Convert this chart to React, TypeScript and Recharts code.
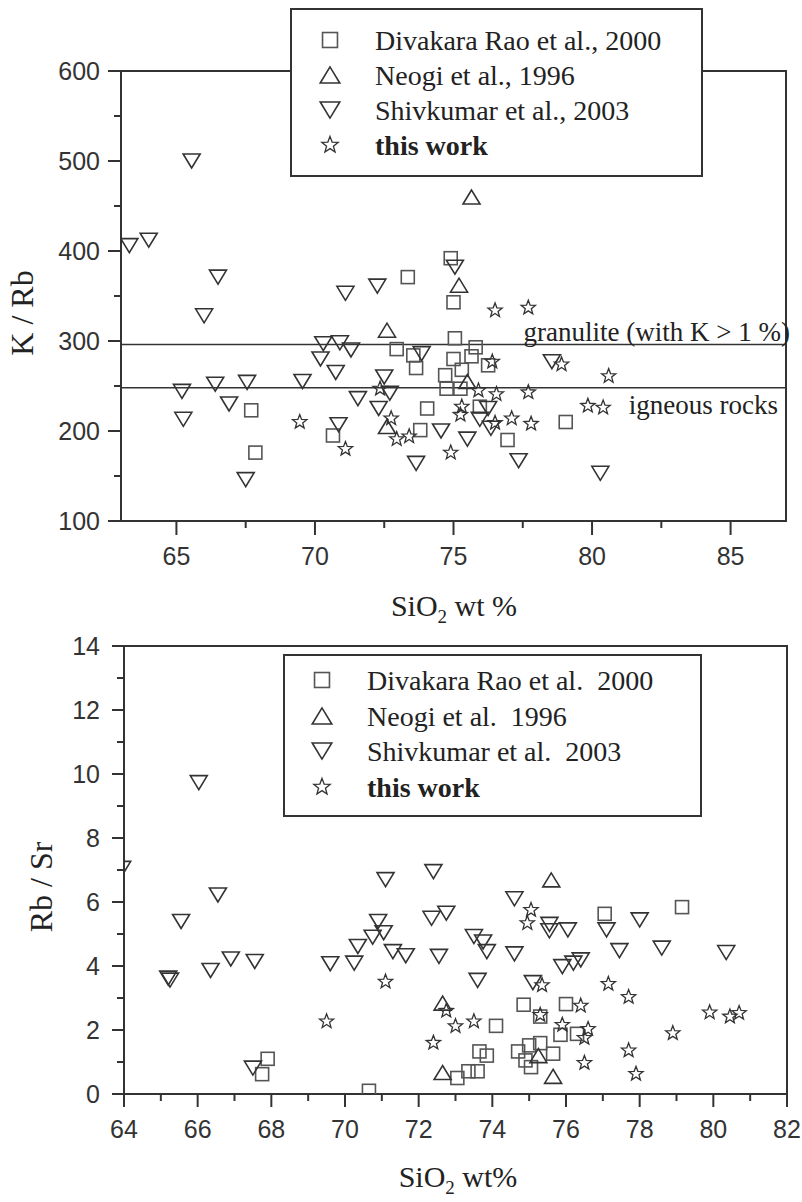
import React from "react";
import {
  ScatterChart,
  Scatter,
  XAxis,
  YAxis,
  ReferenceArea,
  ReferenceLine,
  Legend,
} from "recharts";

type Pt = [number, number];
type Kind = "square" | "up" | "down" | "star";

// upper panel: K/Rb vs SiO2
const krbDivakara: Pt[] = [
  [67.7, 223], [67.85, 176], [70.65, 195], [72.95, 291], [73.35, 371], [73.55, 284],
  [73.65, 270], [73.8, 201], [74.05, 225], [74.7, 262], [74.75, 247], [74.9, 392],
  [75.0, 343], [75.0, 280], [75.05, 303], [75.25, 247], [75.3, 268], [75.65, 283],
  [75.8, 293], [75.95, 227], [76.25, 273], [76.95, 190], [79.05, 210],
];
const krbNeogi: Pt[] = [[72.6, 312], [72.6, 205], [75.2, 362], [75.5, 255], [75.65, 460]];
const krbShivkumar: Pt[] = [
  [63.3, 406], [64.0, 412], [65.55, 500], [66.0, 328], [66.5, 371], [65.2, 244],
  [65.25, 213], [66.4, 252], [66.9, 230], [67.55, 254], [67.5, 146], [69.55, 255],
  [70.3, 297], [70.2, 280], [70.75, 265], [70.9, 298], [71.3, 290], [71.55, 236],
  [70.85, 207], [71.1, 353], [72.25, 361], [72.5, 260], [72.7, 242], [72.3, 225],
  [73.85, 286], [74.55, 200], [75.5, 191], [73.65, 164], [75.95, 213], [76.25, 225],
  [76.35, 203], [77.35, 167], [80.3, 153], [78.55, 277], [75.05, 382],
];
const krbThisWork: Pt[] = [
  [69.45, 210], [71.1, 180], [72.35, 247], [72.75, 214], [72.95, 191], [73.4, 194],
  [74.9, 176], [75.3, 227], [75.25, 218], [75.9, 245], [76.55, 241], [76.4, 277],
  [76.5, 334], [77.7, 337], [77.1, 214], [77.8, 208], [76.5, 209], [77.7, 243],
  [78.9, 274], [79.85, 228], [80.4, 226], [80.6, 261],
];

// lower panel: Rb/Sr vs SiO2
const rbsrDivakara: Pt[] = [
  [67.9, 1.1], [67.75, 0.62], [70.65, 0.1], [77.05, 5.63], [79.15, 5.84], [74.85, 2.79],
  [76.0, 2.81], [74.1, 2.13], [75.3, 2.42], [75.85, 1.85], [76.3, 1.88], [73.65, 1.33],
  [73.85, 1.2], [74.7, 1.33], [75.0, 1.52], [75.3, 1.59], [74.9, 1.05], [75.05, 0.84],
  [75.65, 1.26], [73.05, 0.5], [73.35, 0.71], [73.6, 0.71],
];
const rbsrNeogi: Pt[] = [[72.65, 2.84], [72.65, 0.67], [75.25, 1.2], [75.65, 0.55], [75.6, 6.69]];
const rbsrShivkumar: Pt[] = [
  [63.95, 7.05], [66.03, 9.73], [66.55, 6.22], [65.55, 5.39], [65.2, 3.62], [65.25, 3.56],
  [66.35, 3.86], [66.9, 4.22], [67.55, 4.14], [67.5, 0.81], [69.6, 4.07], [70.25, 4.09],
  [70.35, 4.61], [70.75, 4.9], [70.9, 5.39], [71.05, 5.04], [71.1, 6.7], [71.3, 4.45],
  [71.65, 4.32], [72.35, 5.49], [72.75, 5.65], [72.55, 4.3], [72.4, 6.95], [73.5, 4.92],
  [73.75, 4.75], [73.85, 4.45], [73.6, 3.55], [74.6, 4.38], [74.6, 6.1], [75.55, 5.3],
  [75.55, 5.1], [76.05, 5.13], [75.9, 3.98], [76.2, 4.09], [76.4, 4.19], [75.1, 3.48],
  [77.1, 5.13], [77.45, 4.48], [78.0, 5.44], [78.6, 4.56], [80.35, 4.42],
];
const rbsrThisWork: Pt[] = [
  [69.5, 2.27], [71.1, 3.51], [72.75, 2.6], [73.0, 2.12], [73.5, 2.27], [72.4, 1.6],
  [75.05, 5.75], [74.95, 5.34], [75.35, 3.4], [77.15, 3.44], [77.7, 3.03], [76.4, 2.76],
  [75.3, 2.47], [75.9, 2.16], [76.6, 2.03], [76.5, 1.75], [76.5, 0.97], [77.7, 1.36],
  [77.9, 0.63], [78.9, 1.9], [79.9, 2.55], [80.45, 2.42], [80.7, 2.53],
];

const KRB_X_MAJOR = [65, 70, 75, 80, 85];
const KRB_X_MINOR = [67.5, 72.5, 77.5, 82.5];
const KRB_Y_MAJOR = [100, 200, 300, 400, 500, 600];
const KRB_Y_MINOR = [150, 250, 350, 450, 550];
const RBSR_X_MAJOR = [64, 66, 68, 70, 72, 74, 76, 78, 80, 82];
const RBSR_X_MINOR = [65, 67, 69, 71, 73, 75, 77, 79, 81];
const RBSR_Y_MAJOR = [0, 2, 4, 6, 8, 10, 12, 14];
const RBSR_Y_MINOR = [1, 3, 5, 7, 9, 11, 13];

const GRANULITE_KRB = 296;
const IGNEOUS_KRB = 248;

const KRB_NAMES = ["Divakara Rao et al., 2000", "Neogi et al., 1996", "Shivkumar et al., 2003", "this work"];
const RBSR_NAMES = ["Divakara Rao et al.  2000", "Neogi et al.  1996", "Shivkumar et al.  2003", "this work"];
const KINDS: Kind[] = ["square", "up", "down", "star"];

const INK = "#333";
const SERIF = '"Liberation Serif", "Times New Roman", serif';
const SANS = '"Liberation Sans", Arial, sans-serif';

const toRows = (pts: Pt[]) => pts.map(([x, y]) => ({ x, y }));

function Marker({ kind, cx, cy, scale = 1 }: { kind: Kind; cx?: number; cy?: number; scale?: number }) {
  if (cx == null || cy == null) return null;
  const stroke = kind === "square" ? "#555" : INK;
  const common = { fill: "none", stroke, strokeWidth: 1.6 };
  if (kind === "square") {
    const h = 6.5 * scale;
    return <rect x={cx - h} y={cy - h} width={2 * h} height={2 * h} {...common} />;
  }
  if (kind === "up" || kind === "down") {
    const w = 8.5 * scale;
    const h = 7 * scale;
    const s = kind === "up" ? 1 : -1;
    const pts = `${cx},${cy - s * h} ${cx - w},${cy + s * h} ${cx + w},${cy + s * h}`;
    return <polygon points={pts} {...common} />;
  }
  const R = 7.5 * scale;
  const pts: string[] = [];
  for (let i = 0; i < 10; i++) {
    const r = i % 2 === 0 ? R : R * 0.42;
    const a = -Math.PI / 2 + (i * Math.PI) / 5;
    pts.push(`${cx + r * Math.cos(a)},${cy + r * Math.sin(a)}`);
  }
  return <polygon points={pts.join(" ")} {...common} strokeWidth={1.3} />;
}

function xTick(major: number[], len: number, gap: number) {
  return (p: any) => {
    const v = p.payload.value;
    const isMajor = major.includes(v);
    const l = isMajor ? len : 7;
    return (
      <g>
        <line x1={p.x} x2={p.x} y1={p.y} y2={p.y + l} stroke={INK} strokeWidth={2} />
        {isMajor && (
          <text x={p.x} y={p.y + l + gap} dy="0.72em" textAnchor="middle" fontFamily={SANS} fontSize={25} fill={INK}>
            {v}
          </text>
        )}
      </g>
    );
  };
}

function yTick(major: number[], len: number, gap: number) {
  return (p: any) => {
    const v = p.payload.value;
    const isMajor = major.includes(v);
    const l = isMajor ? len : 7;
    return (
      <g>
        <line x1={p.x - l} x2={p.x} y1={p.y} y2={p.y} stroke={INK} strokeWidth={2} />
        {isMajor && (
          <text x={p.x - l - gap} y={p.y} dy="0.36em" textAnchor="end" fontFamily={SANS} fontSize={25} fill={INK}>
            {v}
          </text>
        )}
      </g>
    );
  };
}

interface Box {
  width: number;
  height: number;
  padTop: number;
  row: number;
  markerX: number;
  textX: number;
}

function legendContent(names: string[], box: Box) {
  return (props: any) => {
    const payload: any[] = props.payload ?? [];
    return (
      <div
        style={{
          boxSizing: "border-box",
          width: box.width,
          height: box.height,
          border: `2px solid ${INK}`,
          background: "#fff",
          paddingTop: box.padTop,
          fontFamily: SERIF,
          fontSize: 28,
          color: "#222",
        }}
      >
        {payload.map((entry, i) => {
          const idx = names.indexOf(entry.value);
          const kind = KINDS[idx < 0 ? i : idx];
          return (
            <div key={i} style={{ position: "relative", height: box.row, lineHeight: `${box.row}px`, whiteSpace: "pre" }}>
              <svg width={26} height={box.row} style={{ position: "absolute", left: box.markerX - 13, top: 0 }}>
                <Marker kind={kind} cx={13} cy={17} scale={1.15} />
              </svg>
              <span style={{ position: "absolute", left: box.textX, fontWeight: kind === "star" ? "bold" : "normal" }}>
                {entry.value}
              </span>
            </div>
          );
        })}
      </div>
    );
  };
}

function SiO2Label({ x, y, spaced }: { x: number; y: number; spaced: boolean }) {
  return (
    <text x={x} y={y} textAnchor="middle" fontFamily={SERIF} fontSize={30} fill="#222">
      SiO
      <tspan fontSize={19} dy={7}>2</tspan>
      <tspan dy={-7}>{spaced ? " wt %" : " wt%"}</tspan>
    </text>
  );
}

function KrbPanel() {
  const names = KRB_NAMES;
  const data = [krbDivakara, krbNeogi, krbShivkumar, krbThisWork];
  return (
    <ScatterChart width={802} height={630} margin={{ top: 71, right: 16, bottom: 0, left: 0 }}>
      <ReferenceArea x1={63} x2={87} y1={100} y2={600} fill="none" stroke={INK} strokeWidth={2} ifOverflow="visible" />
      <XAxis
        type="number"
        dataKey="x"
        domain={[63, 87]}
        allowDataOverflow
        ticks={[...KRB_X_MAJOR, ...KRB_X_MINOR].sort((a, b) => a - b)}
        interval={0}
        height={109}
        axisLine={false}
        tickLine={false}
        tickSize={0}
        tickMargin={0}
        tick={xTick(KRB_X_MAJOR, 14, 12)}
        label={{ content: () => <SiO2Label x={454} y={616} spaced /> }}
      />
      <YAxis
        type="number"
        dataKey="y"
        domain={[100, 600]}
        allowDataOverflow
        ticks={[...KRB_Y_MAJOR, ...KRB_Y_MINOR].sort((a, b) => a - b)}
        interval={0}
        width={121}
        axisLine={false}
        tickLine={false}
        tickSize={0}
        tickMargin={0}
        tick={yTick(KRB_Y_MAJOR, 13, 8)}
        label={{
          content: () => (
            <text transform="translate(33,313) rotate(-90)" textAnchor="middle" fontFamily={SERIF} fontSize={32} fill="#222">
              K / Rb
            </text>
          ),
        }}
      />
      <ReferenceLine
        y={GRANULITE_KRB}
        stroke={INK}
        strokeWidth={1.5}
        label={{
          content: (p: any) => (
            <text x={p.viewBox.x + p.viewBox.width + 4} y={p.viewBox.y - 4} textAnchor="end" fontFamily={SERIF} fontSize={27} fill="#222">
              granulite (with K &gt; 1 %)
            </text>
          ),
        }}
      />
      <ReferenceLine
        y={IGNEOUS_KRB}
        stroke={INK}
        strokeWidth={1.5}
        label={{
          content: (p: any) => (
            <text x={p.viewBox.x + p.viewBox.width - 8} y={p.viewBox.y + 26} textAnchor="end" fontFamily={SERIF} fontSize={27} fill="#222">
              igneous rocks
            </text>
          ),
        }}
      />
      {data.map((pts, i) => (
        <Scatter
          key={names[i]}
          name={names[i]}
          data={toRows(pts)}
          isAnimationActive={false}
          shape={(p: any) => <Marker kind={KINDS[i]} cx={p.cx} cy={p.cy} />}
        />
      ))}
      <Legend
        layout="horizontal"
        align="center"
        verticalAlign="middle"
        wrapperStyle={{ left: 290, top: 8, width: 413, height: 169 }}
        content={legendContent(names, { width: 413, height: 169, padTop: 13, row: 35, markerX: 38, textX: 83 })}
      />
    </ScatterChart>
  );
}

function RbsrPanel() {
  const names = RBSR_NAMES;
  const data = [rbsrDivakara, rbsrNeogi, rbsrShivkumar, rbsrThisWork];
  return (
    <ScatterChart width={802} height={572} margin={{ top: 16, right: 15, bottom: 0, left: 0 }}>
      <ReferenceArea x1={64} x2={82} y1={0} y2={14} fill="none" stroke={INK} strokeWidth={2} ifOverflow="visible" />
      <XAxis
        type="number"
        dataKey="x"
        domain={[64, 82]}
        allowDataOverflow
        ticks={[...RBSR_X_MAJOR, ...RBSR_X_MINOR].sort((a, b) => a - b)}
        interval={0}
        height={108}
        axisLine={false}
        tickLine={false}
        tickSize={0}
        tickMargin={0}
        tick={xTick(RBSR_X_MAJOR, 13, 13)}
        label={{ content: () => <SiO2Label x={458} y={557} spaced={false} /> }}
      />
      <YAxis
        type="number"
        dataKey="y"
        domain={[0, 14]}
        allowDataOverflow
        ticks={[...RBSR_Y_MAJOR, ...RBSR_Y_MINOR].sort((a, b) => a - b)}
        interval={0}
        width={124}
        axisLine={false}
        tickLine={false}
        tickSize={0}
        tickMargin={0}
        tick={yTick(RBSR_Y_MAJOR, 12, 12)}
        label={{
          content: () => (
            <text transform="translate(52,257) rotate(-90)" textAnchor="middle" fontFamily={SERIF} fontSize={32} fill="#222">
              Rb / Sr
            </text>
          ),
        }}
      />
      {data.map((pts, i) => (
        <Scatter
          key={names[i]}
          name={names[i]}
          data={toRows(pts)}
          isAnimationActive={false}
          shape={(p: any) => <Marker kind={KINDS[i]} cx={p.cx} cy={p.cy} />}
        />
      ))}
      <Legend
        layout="horizontal"
        align="center"
        verticalAlign="middle"
        wrapperStyle={{ left: 283, top: 24, width: 419, height: 163 }}
        content={legendContent(names, { width: 419, height: 163, padTop: 7, row: 35.5, markerX: 37, textX: 82 })}
      />
    </ScatterChart>
  );
}

export default function App() {
  return (
    <div style={{ position: "absolute", left: 0, top: 0, width: 802, height: 1202, background: "#fff" }}>
      <KrbPanel />
      <div style={{ position: "absolute", left: 0, top: 630 }}>
        <RbsrPanel />
      </div>
    </div>
  );
}
